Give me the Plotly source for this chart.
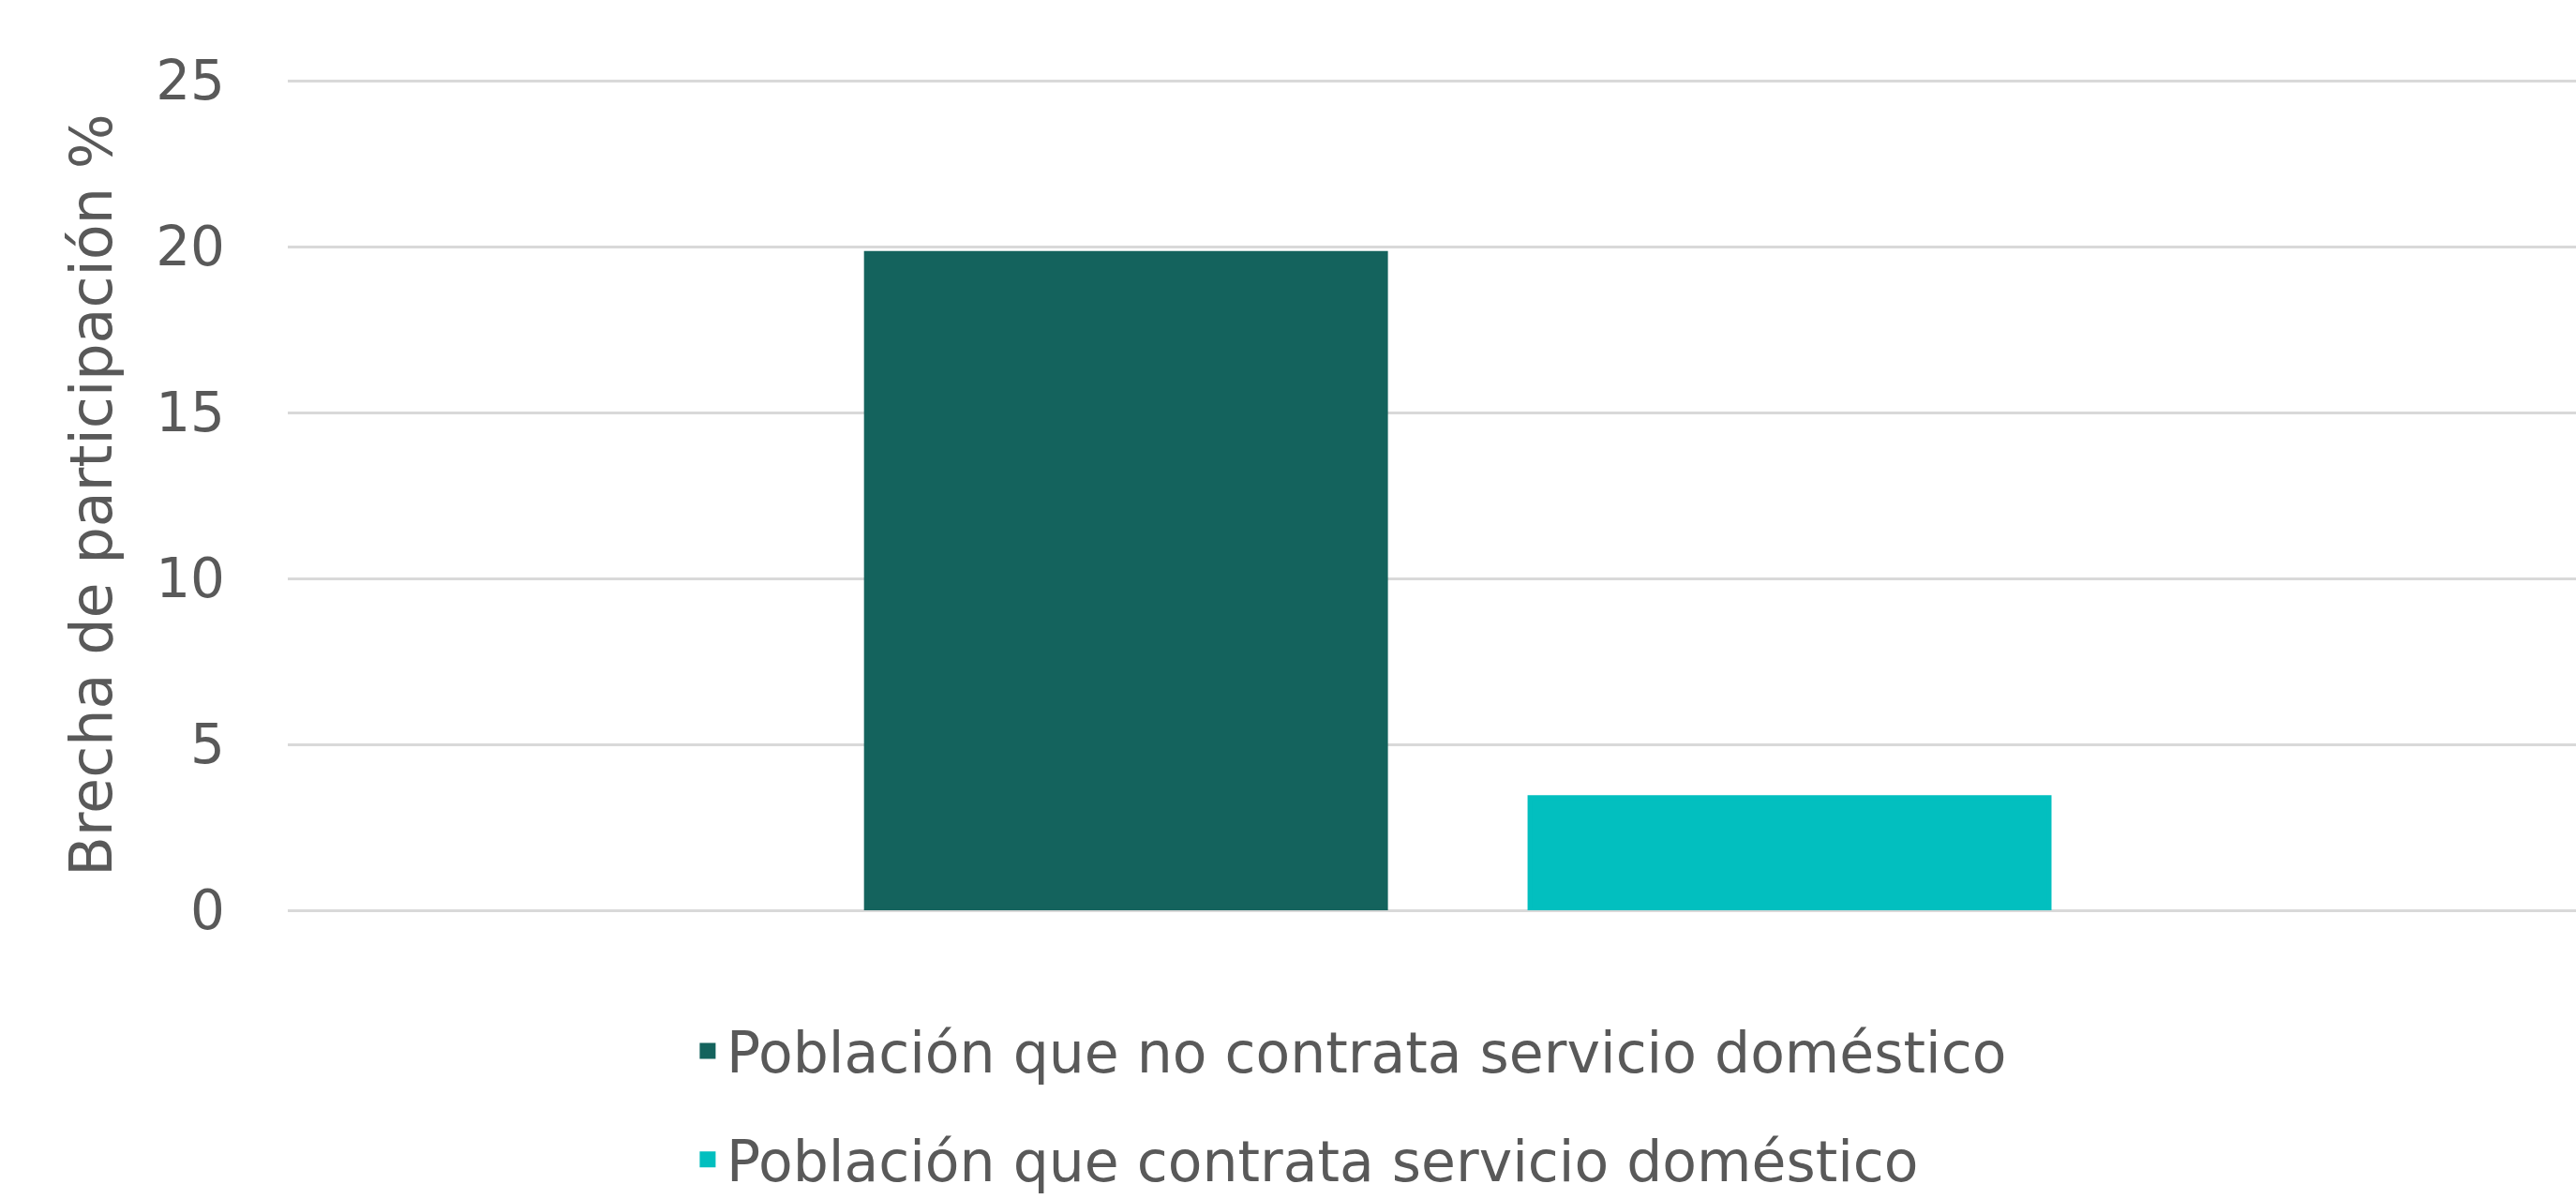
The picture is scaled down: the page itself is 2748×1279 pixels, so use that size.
import plotly.graph_objects as go

categories = [""]
series_names = ["Población que no contrata servicio doméstico",
                "Población que contrata servicio doméstico"]
series_values = [[19.8], [3.4]]
series_colors = ["#14635D", "#02BFBF"]
y_ticks = [0, 5, 10, 15, 20, 25]

FONT = "DejaVu Sans, sans-serif"
TXT = "#595959"

fig = go.Figure()
for i, (name, vals, col) in enumerate(zip(series_names, series_values, series_colors)):
    fig.add_trace(go.Bar(
        x=categories, y=vals, name=name,
        marker=dict(color=col, line=dict(width=5, color=col)),
        legend="legend" if i == 0 else "legend2",
    ))

fig.update_layout(
    width=2748, height=1279,
    margin=dict(l=307, r=0, t=85, b=308),
    paper_bgcolor="white", plot_bgcolor="white",
    barmode="group", bargap=0.42, bargroupgap=0.2175,
    font=dict(family=FONT, size=58, color=TXT),
    showlegend=True,
    legend=dict(x=0.1753, y=0.1235, xanchor="left", yanchor="middle",
                yref="container",
                font=dict(size=60, color=TXT), bgcolor="rgba(0,0,0,0)"),
    legend2=dict(x=0.1753, y=0.033, xanchor="left", yanchor="middle",
                 yref="container",
                 font=dict(size=60, color=TXT), bgcolor="rgba(0,0,0,0)"),
    xaxis=dict(range=[-0.5113, 0.4887], showticklabels=False, showgrid=False,
               zeroline=False, showline=False, ticks=""),
    yaxis=dict(range=[0, 25.03], tickvals=y_ticks, showgrid=True,
               gridcolor="#D9D9D9", gridwidth=3, zeroline=True,
               zerolinecolor="#D9D9D9", zerolinewidth=3, showline=False,
               ticks="", ticklabelstandoff=66,
               tickfont=dict(size=58, color=TXT),
               title=dict(text="Brecha de participación %", standoff=26,
                          font=dict(size=62, color=TXT)),
               automargin=False),
)

fig.write_html("out.html",
               config={"displayModeBar": False},
               post_script="document.body.style.margin='0';document.body.style.overflow='hidden';")
